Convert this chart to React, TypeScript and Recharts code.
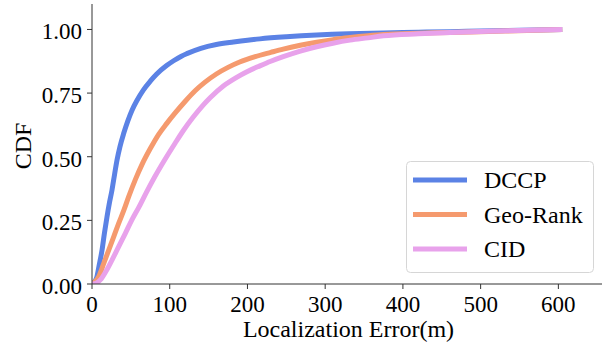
import React from 'react';
import { LineChart, Line, XAxis, YAxis, Legend } from 'recharts';

const dccpX = [0, 3, 6.4, 9, 12.9, 16, 19.3, 22.5, 25.7, 29, 32.2, 36, 40.8, 46, 51.5, 58, 66, 75, 83, 96, 105, 115, 122, 140, 160, 182, 200, 216, 250, 289, 330, 375, 420, 461, 500, 550, 605];
const dccpY = [0, 0.008, 0.029, 0.07, 0.133, 0.2, 0.264, 0.32, 0.369, 0.43, 0.487, 0.54, 0.592, 0.64, 0.683, 0.722, 0.762, 0.797, 0.824, 0.858, 0.877, 0.895, 0.905, 0.926, 0.941, 0.951, 0.958, 0.963, 0.971, 0.978, 0.983, 0.986, 0.989, 0.991, 0.994, 0.997, 1.0];

const geoX = [0, 4, 8.6, 15, 21.5, 28, 34.3, 41, 47.2, 56, 64.4, 75, 85.8, 96, 107.3, 120, 133, 145, 160, 175, 190, 210, 230, 246, 268, 289, 310, 332, 355, 375, 420, 461, 510, 560, 605];
const geoY = [0, 0.01, 0.029, 0.08, 0.133, 0.186, 0.238, 0.29, 0.343, 0.412, 0.47, 0.532, 0.588, 0.63, 0.673, 0.718, 0.76, 0.792, 0.825, 0.851, 0.872, 0.893, 0.91, 0.923, 0.938, 0.95, 0.96, 0.968, 0.975, 0.98, 0.985, 0.988, 0.992, 0.996, 1.0];

const cidX = [0, 5, 10.7, 18, 25.7, 34, 42.9, 51, 60, 70, 81.5, 94, 107.3, 118, 130, 143, 152, 169, 185, 200, 216, 230, 246, 268, 289, 310, 332, 355, 375, 420, 461, 510, 560, 605];
const cidY = [0, 0.003, 0.016, 0.05, 0.094, 0.145, 0.199, 0.25, 0.3, 0.36, 0.425, 0.49, 0.555, 0.605, 0.655, 0.703, 0.732, 0.778, 0.81, 0.835, 0.857, 0.875, 0.893, 0.915, 0.932, 0.946, 0.958, 0.967, 0.975, 0.983, 0.988, 0.993, 0.997, 1.0];

const seriesNames = ['DCCP', 'Geo-Rank', 'CID'];
const seriesColors = ['#5b82e5', '#f59a6e', '#e8a2eb'];
const xTicks = [0, 100, 200, 300, 400, 500, 600];
const yTicks = [0, 0.25, 0.5, 0.75, 1.0];
const xLabel = 'Localization Error(m)';
const yLabel = 'CDF';

const FONT = 'Liberation Serif';
const AXIS = '#333';

const toPoints = (xs: number[], ys: number[]) => xs.map((x, i) => ({ x, y: ys[i] }));
const seriesData = [toPoints(dccpX, dccpY), toPoints(geoX, geoY), toPoints(cidX, cidY)];

const YTick = (props: any) => {
  const { x, y, payload } = props;
  return (
    <text x={x} y={y + 10} textAnchor="end" style={{ fontSize: 23, fontFamily: FONT }} fill="#000">
      {Number(payload.value).toFixed(2)}
    </text>
  );
};

const XTick = (props: any) => {
  const { x, y, payload } = props;
  return (
    <text x={x} y={y + 22.5} textAnchor="middle" style={{ fontSize: 23, fontFamily: FONT }} fill="#000">
      {payload.value}
    </text>
  );
};

const LegendBox = () => (
  <svg width={188} height={112} style={{ display: 'block' }}>
    <rect x={0.5} y={0.5} width={187} height={111} rx={4} ry={4} fill="#fff" fillOpacity={0.8} stroke="#d6d6d6" strokeWidth={1} />
    {seriesNames.map((name, i) => {
      const cy = 19 + i * 34.5;
      return (
        <g key={name}>
          <line x1={7} x2={61} y1={cy} y2={cy} stroke={seriesColors[i]} strokeWidth={5} />
          <text x={78} y={cy + 8} style={{ fontSize: 24, fontFamily: FONT }} fill="#000">{name}</text>
        </g>
      );
    })}
  </svg>
);

export default function App() {
  return (
    <div style={{ position: 'absolute', left: 0, top: 0, width: 602, height: 346, overflow: 'hidden', background: '#fff' }}>
      <LineChart width={610} height={346} margin={{ top: 4, right: 5, left: 0, bottom: 0 }}>
        <XAxis
          xAxisId="top"
          orientation="top"
          type="number"
          dataKey="x"
          domain={[0, 660]}
          height={0}
          tick={false}
          tickLine={false}
          axisLine={{ stroke: AXIS, strokeWidth: 1 }}
        />
        <XAxis
          type="number"
          dataKey="x"
          domain={[0, 660]}
          ticks={xTicks}
          allowDataOverflow
          height={62}
          tickSize={5}
          tickMargin={0}
          tick={<XTick />}
          tickLine={{ stroke: AXIS }}
          axisLine={{ stroke: AXIS, strokeWidth: 1 }}
          label={{
            content: (p: any) => {
              const vb = p.viewBox || { x: 92, y: 284, width: 513 };
              return (
                <text x={vb.x + vb.width / 2} y={337} textAnchor="middle" style={{ fontSize: 24, fontFamily: FONT }} fill="#000">
                  {xLabel}
                </text>
              );
            },
          }}
        />
        <YAxis
          type="number"
          dataKey="y"
          domain={[0, 1.1]}
          ticks={yTicks}
          allowDataOverflow
          width={92}
          tickSize={5}
          tickMargin={5}
          tick={<YTick />}
          tickLine={{ stroke: AXIS }}
          axisLine={{ stroke: AXIS, strokeWidth: 1 }}
          label={{
            content: () => (
              <text transform="translate(31,146) rotate(-90)" textAnchor="middle" style={{ fontSize: 24, fontFamily: FONT }} fill="#000">
                {yLabel}
              </text>
            ),
          }}
        />
        {seriesNames.map((name, i) => (
          <Line
            key={name}
            data={seriesData[i]}
            dataKey="y"
            name={name}
            type="monotone"
            stroke={seriesColors[i]}
            strokeWidth={5}
            dot={false}
            activeDot={false}
            isAnimationActive={false}
          />
        ))}
        <Legend
          layout="horizontal"
          verticalAlign="middle"
          align="center"
          content={<LegendBox />}
          wrapperStyle={{ position: 'absolute', left: 406, top: 161, width: 188, height: 112, bottom: 'auto', right: 'auto', margin: 0 }}
        />
      </LineChart>
    </div>
  );
}
